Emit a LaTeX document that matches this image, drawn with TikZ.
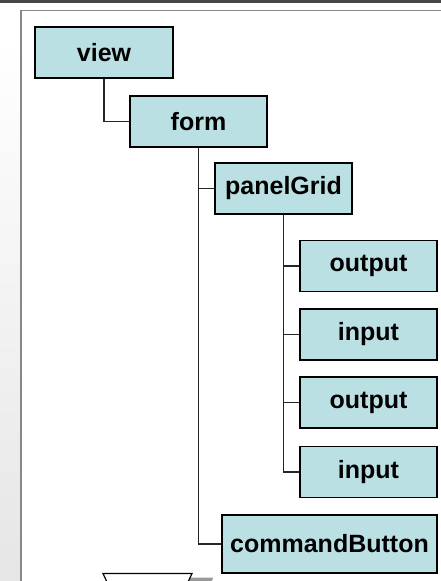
\documentclass[tikz,border=0pt]{standalone}
\usepackage{fontspec}
\setmainfont{Liberation Sans}
\definecolor{boxfill}{RGB}{187,224,227}
\definecolor{framegray}{RGB}{136,136,136}
\definecolor{topbar}{RGB}{70,70,70}
\begin{document}
\begin{tikzpicture}[x=1pt,y=-1pt,
  tnode/.style={draw=black, line width=1.3pt, fill=boxfill, minimum width=137pt, minimum height=51pt, inner sep=0pt, font=\fontsize{25}{29}\selectfont\bfseries},
  conn/.style={draw=black!85, line width=1.3pt}]
\useasboundingbox (0,0) rectangle (441,581);
% background
\fill[white] (0,0) rectangle (441,581);
\shade[top color=white, bottom color=black!10] (0,40) rectangle (21,581);
\fill[white] (21,10) rectangle (441,581);
\draw[framegray, line width=1.6pt] (21,581) -- (21,10.5) -- (441,10.5);
\fill[topbar] (0,0) rectangle (441,3);
% nodes
\node[tnode, minimum width=138pt] (view) at (104,52.5) {view};
\node[tnode] (form) at (198.5,121.5) {form};
\node[tnode] (pg) at (283.5,188.5) {panelGrid};
\node[tnode] (o1) at (368.5,266) {output};
\node[tnode] (i1) at (368.5,334.5) {input};
\node[tnode] (o2) at (368.5,402.5) {output};
\node[tnode] (i2) at (368.5,472) {input};
\node[tnode, minimum width=215pt, minimum height=58pt] (cb) at (329.5,544) {commandButton};
% connectors
\draw[conn] (view.south) |- (form.west);
\draw[conn] (form.south) |- (pg.west);
\draw[conn] (form.south) |- (cb.west);
\draw[conn] (pg.south) |- (o1.west);
\draw[conn] (pg.south) |- (i1.west);
\draw[conn] (pg.south) |- (o2.west);
\draw[conn] (pg.south) |- (i2.west);
% cut-off shape at the bottom
\fill[black!40] (186,577.5) -- (213,577.5) -- (212,581) -- (186,581) -- cycle;
\draw[black, line width=1.2pt, fill=white] (107,582) -- (103,573.5) -- (192,573.5) -- (188,582);
\end{tikzpicture}
\end{document}
